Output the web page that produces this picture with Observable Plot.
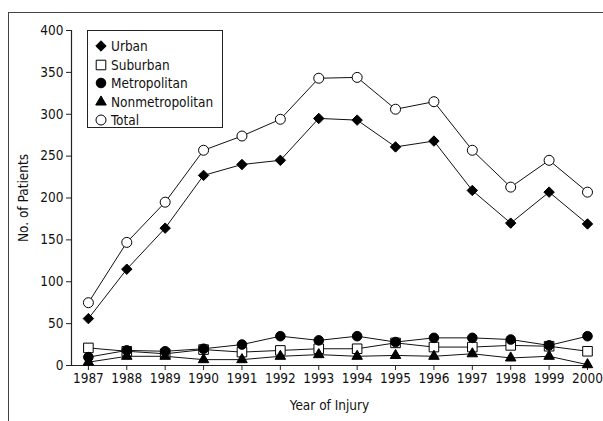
<!DOCTYPE html>
<html>
<head>
<meta charset="utf-8">
<script src="https://cdn.jsdelivr.net/npm/d3@7"></script>
<script src="https://cdn.jsdelivr.net/npm/@observablehq/plot@0.6"></script>
<style>
  html, body { margin: 0; padding: 0; background: #fff; }
  #wrap { position: relative; width: 603px; height: 421px; overflow: hidden;
    font-family: "Liberation Sans Narrow", "DejaVu Sans Condensed", "Roboto", sans-serif; }
  #frame { position: absolute; left: 8px; top: 12px; width: 600px; height: 420px;
    border-top: 1.5px solid #444; border-left: 1.5px solid #444; pointer-events: none; }
  #legend { position: absolute; left: 87px; top: 30px; width: 134px; height: 96px;
    border: 1px solid #222; background: #fff; font-size: 13.5px; color: #111; }
  #legend .item { position: absolute; left: 6px; height: 18px; display: flex; align-items: center; }
  #legend svg { margin-right: 3px; }
</style>
</head>
<body>
<div id="wrap">
  <div id="chart"></div>
  <div id="frame"></div>
  <div id="legend"></div>
</div>
<script>
const years = [1987,1988,1989,1990,1991,1992,1993,1994,1995,1996,1997,1998,1999,2000];
const urban = [56,115,164,227,240,245,295,293,261,268,209,170,207,169];
const suburban = [21,17,14,19,16,18,20,20,27,22,22,24,23,17];
const metropolitan = [10,18,17,20,25,35,30,35,28,33,33,31,24,35];
const nonmetropolitan = [4,11,11,7,7,11,13,11,12,11,14,9,11,1];
const total = [75,147,195,257,274,294,343,344,306,315,257,213,245,207];
const seriesNames = ["Urban","Suburban","Metropolitan","Nonmetropolitan","Total"];
const yTicks = [0,50,100,150,200,250,300,350,400];

const seriesValues = [urban, suburban, metropolitan, nonmetropolitan, total];
const styles = {
  Urban: {symbol: "diamond2", fill: "#000", r: 4.7},
  Suburban: {symbol: "square", fill: "#fff", r: 5.4},
  Metropolitan: {symbol: "circle", fill: "#000", r: 4.8},
  Nonmetropolitan: {symbol: "triangle", fill: "#000", r: 3.9},
  Total: {symbol: "circle", fill: "#fff", r: 5}
};
const rows = [];
seriesNames.forEach((s, i) => years.forEach((y, j) => rows.push({series: s, year: y, value: seriesValues[i][j]})));

const font = '"Liberation Sans Narrow", "DejaVu Sans Condensed", "Roboto", sans-serif';
const xStart = 1986.56;
const marks = [
  Plot.ruleY([0], {stroke: "#222", strokeWidth: 1.2}),
  Plot.ruleX([xStart], {stroke: "#222", strokeWidth: 1.2}),
  Plot.axisY({ticks: yTicks, tickSize: 5, tickPadding: 3, fontSize: 13.5, label: "No. of Patients",
    labelAnchor: "center", labelArrow: "none", labelOffset: 53, stroke: "#222"}),
  Plot.axisX({ticks: years, tickFormat: d3.format("d"), tickSize: 5, tickPadding: 3, fontSize: 13.5,
    label: "Year of Injury", labelAnchor: "center", labelArrow: "none", labelOffset: 44, stroke: "#222"})
];
["Urban","Total","Suburban","Metropolitan","Nonmetropolitan"].forEach(s => {
  marks.push(Plot.line(rows.filter(d => d.series === s), {x: "year", y: "value", stroke: "#111", strokeWidth: 1}));
});
["Suburban","Metropolitan","Nonmetropolitan","Urban","Total"].forEach(s => {
  const st = styles[s];
  marks.push(Plot.dot(rows.filter(d => d.series === s), {x: "year", y: "value", symbol: () => st.symbol,
    r: st.r, fill: st.fill, stroke: "#000", strokeWidth: 1}));
});

const chart = Plot.plot({
  width: 603, height: 421,
  marginLeft: 71, marginRight: 16, marginTop: 30, marginBottom: 56,
  style: {fontFamily: font, fontSize: "13.5px", color: "#111", background: "#fff"},
  x: {domain: [xStart, 2000], label: null},
  y: {domain: [0, 400], label: null},
  symbol: {type: "identity"},
  marks
});
document.getElementById("chart").appendChild(chart);

// legend
const legend = document.getElementById("legend");
const symMap = {diamond2: d3.symbolDiamond2, square: d3.symbolSquare, circle: d3.symbolCircle, triangle: d3.symbolTriangle};
seriesNames.forEach((s, i) => {
  const st = styles[s];
  const item = document.createElement("div");
  item.className = "item";
  item.style.top = (6 + i * 18.6) + "px";
  const path = d3.symbol(symMap[st.symbol], Math.PI * st.r * st.r)();
  item.innerHTML = `<svg width="14" height="16" viewBox="-7 -8 14 16"><path d="${path}" fill="${st.fill}" stroke="#000" stroke-width="1"/></svg><span>${s}</span>`;
  legend.appendChild(item);
});
</script>
</body>
</html>
